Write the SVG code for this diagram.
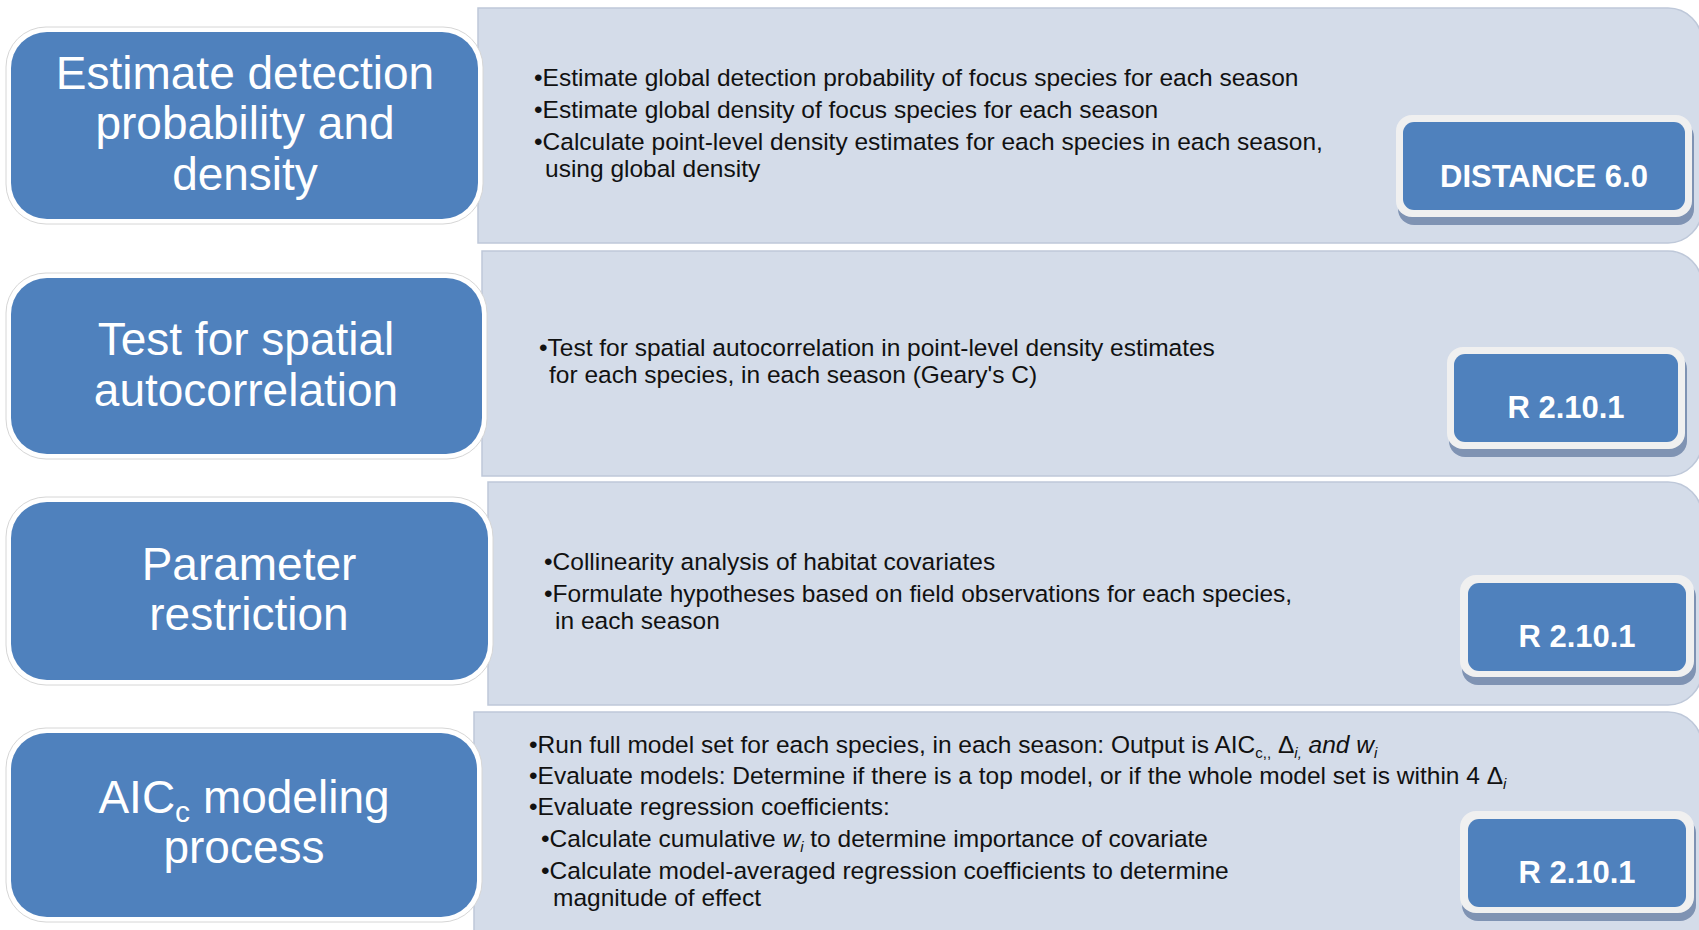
<svg xmlns="http://www.w3.org/2000/svg" width="1699" height="930" viewBox="0 0 1699 930">
<defs>
<style>
.panel{fill:#D4DCE9;stroke:#BEC8D9;stroke-width:1.5}
.bx-out{fill:#FFFFFF;stroke:#D6D6D6;stroke-width:1}
.bx{fill:#4F81BD}
.big{font-family:"Liberation Sans",Arial,sans-serif;font-size:46px;fill:#FFFFFF;text-anchor:middle}
.body{font-family:"Liberation Sans",Arial,sans-serif;font-size:24.5px;fill:#111111}
.sw-sh{fill:#7F93B3}
.sw-out{fill:#F0F0F0}
.sw{fill:#4F81BD}
.sw-t{font-family:"Liberation Sans",Arial,sans-serif;font-size:31px;font-weight:bold;fill:#FFFFFF;text-anchor:middle}
.it{font-style:italic}
.s15{font-size:15px}
.s30{font-size:30px}
</style>
</defs>
<rect width="1699" height="930" fill="#FFFFFF"/>

<g id="connectors"></g>

<g id="row1">
<path class="panel" d="M478 8 H1668 A34 34 0 0 1 1702 42 V209 A34 34 0 0 1 1668 243 H478 Z"/>
<rect class="bx-out" x="6" y="27" width="477" height="197" rx="40"/>
<rect class="bx" x="11" y="32" width="467" height="187" rx="36"/>
<text class="big" x="245" y="89">Estimate detection</text>
<text class="big" x="245" y="139">probability and</text>
<text class="big" x="245" y="190">density</text>
<text class="body" x="534" y="86">•Estimate global detection probability of focus species for each season</text>
<text class="body" x="534" y="118">•Estimate global density of focus species for each season</text>
<text class="body" x="534" y="150">•Calculate point-level density estimates for each species in each season,</text>
<text class="body" x="545" y="177">using global density</text>
<g id="sw1">
<rect class="sw-sh" x="1398" y="121" width="296" height="104" rx="16"/>
<rect class="sw-out" x="1396" y="115" width="296" height="102" rx="16"/>
<rect class="sw" x="1403" y="122" width="282" height="88" rx="11"/>
<text class="sw-t" x="1544" y="187">DISTANCE 6.0</text>
</g>
</g>

<g id="row2">
<path class="panel" d="M482 251 H1668 A34 34 0 0 1 1702 285 V442 A34 34 0 0 1 1668 476 H482 Z"/>
<rect class="bx-out" x="6" y="273" width="481" height="186" rx="40"/>
<rect class="bx" x="11" y="278" width="471" height="176" rx="36"/>
<text class="big" x="246" y="355">Test for spatial</text>
<text class="big" x="246" y="406">autocorrelation</text>
<text class="body" x="539" y="356">•Test for spatial autocorrelation in point-level density estimates</text>
<text class="body" x="549" y="383">for each species, in each season (Geary's C)</text>
<g id="sw2">
<rect class="sw-sh" x="1449" y="353" width="238" height="104" rx="16"/>
<rect class="sw-out" x="1447" y="347" width="238" height="102" rx="16"/>
<rect class="sw" x="1454" y="354" width="224" height="88" rx="11"/>
<text class="sw-t" x="1566" y="418">R 2.10.1</text>
</g>
</g>

<g id="row3">
<path class="panel" d="M488 482 H1668 A34 34 0 0 1 1702 516 V671 A34 34 0 0 1 1668 705 H488 Z"/>
<rect class="bx-out" x="6" y="497" width="487" height="188" rx="40"/>
<rect class="bx" x="11" y="502" width="477" height="178" rx="36"/>
<text class="big" x="249" y="580">Parameter</text>
<text class="big" x="249" y="630">restriction</text>
<text class="body" x="544" y="570">•Collinearity analysis of habitat covariates</text>
<text class="body" x="544" y="602">•Formulate hypotheses based on field observations for each species,</text>
<text class="body" x="555" y="629">in each season</text>
<g id="sw3">
<rect class="sw-sh" x="1462" y="581" width="234" height="104" rx="16"/>
<rect class="sw-out" x="1460" y="575" width="234" height="102" rx="16"/>
<rect class="sw" x="1468" y="583" width="218" height="88" rx="11"/>
<text class="sw-t" x="1577" y="647">R 2.10.1</text>
</g>
</g>

<g id="row4">
<path class="panel" d="M474 712 H1668 A34 34 0 0 1 1702 746 V940 H474 Z"/>
<rect class="bx-out" x="6" y="728" width="476" height="194" rx="40"/>
<rect class="bx" x="11" y="733" width="466" height="184" rx="36"/>
<text class="big" x="244" y="813">AIC<tspan class="s30" dy="9">c</tspan><tspan dy="-9"> modeling</tspan></text>
<text class="big" x="244" y="863">process</text>
<text class="body" x="529" y="753">•Run full model set for each species, in each season: Output is AIC<tspan class="s15" dy="5">c,,</tspan><tspan dy="-5"> Δ</tspan><tspan class="it s15" dy="5">i,</tspan><tspan class="it" dy="-5">  and w</tspan><tspan class="it s15" dy="5">i</tspan></text>
<text class="body" x="529" y="784">•Evaluate models: Determine if there is a top model, or if the whole model set is within 4  Δ<tspan class="it s15" dy="5">i</tspan></text>
<text class="body" x="529" y="815">•Evaluate regression coefficients:</text>
<text class="body" x="541" y="847">•Calculate cumulative <tspan class="it">w</tspan><tspan class="it s15" dy="5">i</tspan><tspan dy="-5"> to determine importance of covariate</tspan></text>
<text class="body" x="541" y="879">•Calculate model-averaged regression coefficients to determine</text>
<text class="body" x="553" y="906">magnitude of effect</text>
<g id="sw4">
<rect class="sw-sh" x="1462" y="817" width="234" height="104" rx="16"/>
<rect class="sw-out" x="1460" y="811" width="234" height="102" rx="16"/>
<rect class="sw" x="1468" y="819" width="218" height="88" rx="11"/>
<text class="sw-t" x="1577" y="883">R 2.10.1</text>
</g>
</g>
</svg>
